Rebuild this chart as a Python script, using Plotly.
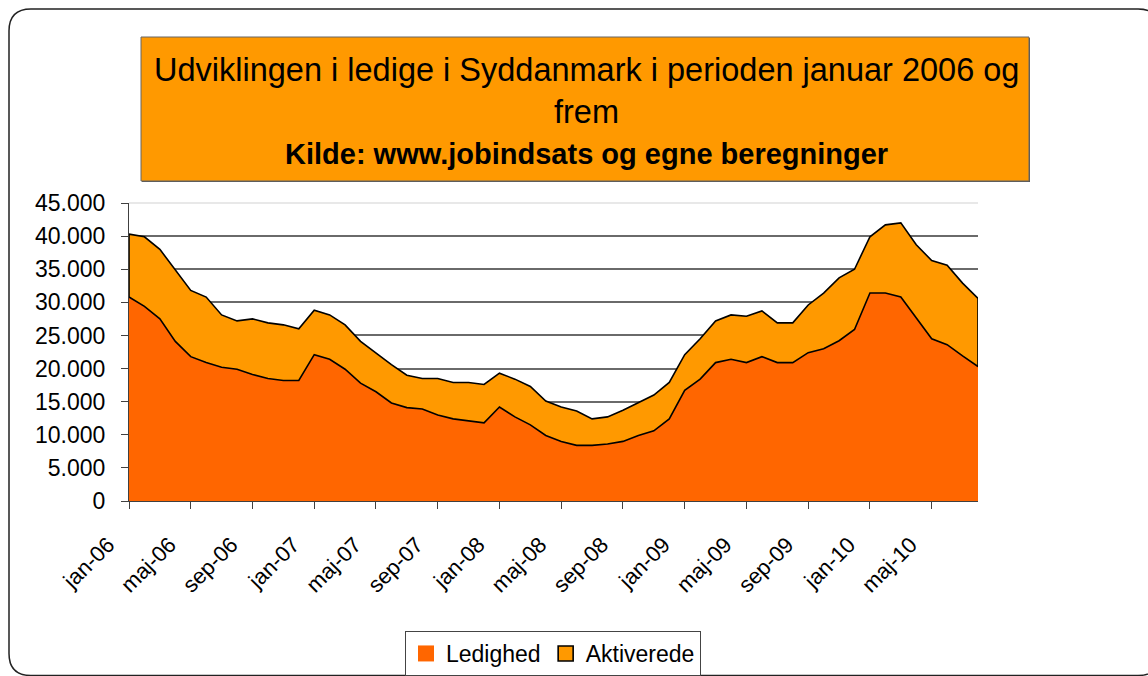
import plotly.graph_objects as go

# ---------------- data ----------------
month_names = ["jan", "feb", "mar", "apr", "maj", "jun", "jul", "aug", "sep", "okt", "nov", "dec"]
years = ["06", "07", "08", "09", "10"]
months = [f"{m}-{y}" for y in years for m in month_names][:56]   # jan-06 .. aug-10

ledighed = [30800, 29400, 27500, 24100, 21800, 20900, 20200, 19900, 19100, 18500,
            18200, 18200, 22100, 21400, 19900, 17800, 16500, 14800, 14100, 13900,
            13000, 12400, 12100, 11800, 14200, 12700, 11500, 9900, 9000, 8400,
            8400, 8600, 9000, 9900, 10600, 12400, 16700, 18400, 20900, 21400,
            20900, 21800, 20900, 20900, 22400, 23000, 24200, 25900, 31400, 31400,
            30800, 27600, 24500, 23600, 21900, 20300]

aktiverede = [9500, 10500, 10500, 10800, 10000, 9900, 7900, 7300, 8400, 8400,
              8400, 7800, 6700, 6700, 6700, 6300, 5800, 5800, 4900, 4600,
              5500, 5500, 5800, 5800, 5100, 5700, 5800, 5200, 5200, 5200,
              4000, 4100, 4700, 5000, 5400, 5500, 5400, 6100, 6300, 6700,
              7000, 6900, 6000, 6000, 7200, 8400, 9500, 9100, 8500, 10300,
              11200, 11100, 11800, 12000, 11000, 10300]

series_names = ["Ledighed", "Aktiverede"]
y_ticks = [0, 5000, 10000, 15000, 20000, 25000, 30000, 35000, 40000, 45000]
x_tick_labels = months[::4]

title_line1 = "Udviklingen i ledige i Syddanmark i perioden januar 2006 og"
title_line2 = "frem"
title_line3 = "Kilde: www.jobindsats og egne beregninger"

# ---------------- layout geometry (pixels) ----------------
W, H = 1148, 676
ML, MR, MT, MB = 129, 170, 203, 175
PW, PH = W - ML - MR, H - MT - MB


def px(x):
    return (x - ML) / PW


def py(y):
    return (H - MB - y) / PH


FONT = "Liberation Sans, Arial, sans-serif"
C_LED = "#FF6600"
C_AKT = "#FF9900"

total = [l + a for l, a in zip(ledighed, aktiverede)]

fig = go.Figure()

# Ledighed area (no border)
fig.add_trace(go.Scatter(
    x=months, y=ledighed, mode="lines", fill="tozeroy",
    fillcolor=C_LED, line=dict(width=0, color=C_LED),
    name=series_names[0], showlegend=False, hoverinfo="skip"))

# Aktiverede area stacked on top, bordered all around
poly_x = months + months[::-1] + [months[0]]
poly_y = total + ledighed[::-1] + [total[0]]
fig.add_trace(go.Scatter(
    x=poly_x, y=poly_y, mode="lines", fill="toself",
    fillcolor=C_AKT, line=dict(width=1.6, color="black"),
    name=series_names[1], showlegend=False, hoverinfo="skip"))

# legend entries (square swatches)
fig.add_trace(go.Scatter(
    x=[None], y=[None], mode="markers", name=series_names[0],
    marker=dict(symbol="square", size=17, color=C_LED, line=dict(width=0))))
fig.add_trace(go.Scatter(
    x=[None], y=[None], mode="markers", name=series_names[1],
    marker=dict(symbol="square", size=15, color=C_AKT, line=dict(width=1.6, color="black"))))

# ---------------- shapes ----------------
shapes = []
# outer rounded frame
L, T, R, B, r = 9, 9, 1160, 675.5, 22
path = (f"M {px(L + r)},{py(T)} L {px(R - r)},{py(T)} Q {px(R)},{py(T)} {px(R)},{py(T + r)} "
        f"L {px(R)},{py(B - r)} Q {px(R)},{py(B)} {px(R - r)},{py(B)} "
        f"L {px(L + r)},{py(B)} Q {px(L)},{py(B)} {px(L)},{py(B - r)} "
        f"L {px(L)},{py(T + r)} Q {px(L)},{py(T)} {px(L + r)},{py(T)} Z")
shapes.append(dict(type="path", xref="paper", yref="paper", path=path,
                   line=dict(color="#222222", width=1.5), fillcolor="rgba(0,0,0,0)", layer="below"))
# title box shadow + box
shapes.append(dict(type="rect", xref="paper", yref="paper",
                   x0=px(142), x1=px(1030), y0=py(182), y1=py(38),
                   line=dict(width=0), fillcolor="#555555", layer="below"))
shapes.append(dict(type="rect", xref="paper", yref="paper",
                   x0=px(141), x1=px(1029), y0=py(181), y1=py(37),
                   line=dict(width=1, color="#666666"), fillcolor=C_AKT, layer="below"))
# faint top border of plot area
shapes.append(dict(type="line", xref="paper", yref="paper", x0=0, x1=1, y0=1, y1=1,
                   line=dict(color="#e8e8e8", width=2), layer="above"))

annotations = [
    dict(text=title_line1, x=px(586), y=py(70.5), xref="paper", yref="paper",
         showarrow=False, xanchor="center", yanchor="middle",
         font=dict(family=FONT, size=32.5, color="black")),
    dict(text=title_line2, x=px(586), y=py(111.5), xref="paper", yref="paper",
         showarrow=False, xanchor="center", yanchor="middle",
         font=dict(family=FONT, size=32.5, color="black")),
    dict(text=f"<b>{title_line3}</b>", x=px(586), y=py(154), xref="paper", yref="paper",
         showarrow=False, xanchor="center", yanchor="middle",
         font=dict(family=FONT, size=29, color="black")),
]

fig.update_layout(
    width=W, height=H,
    margin=dict(l=ML, r=MR, t=MT, b=MB, pad=0, autoexpand=False),
    paper_bgcolor="white", plot_bgcolor="white",
    separators=",.",
    font=dict(family=FONT, color="black"),
    shapes=shapes, annotations=annotations,
    showlegend=True,
    legend=dict(orientation="h", x=553 / W, xref="container", xanchor="center",
                y=1 - 631 / H, yref="container", yanchor="top",
                bordercolor="#444444", borderwidth=1, bgcolor="white",
                font=dict(family=FONT, size=23, color="black"),
                itemwidth=30, tracegroupgap=0),
    xaxis=dict(type="category", categoryorder="array", categoryarray=months,
               range=[0, len(months) - 1], tickmode="array",
               tickvals=x_tick_labels, ticktext=x_tick_labels, tickangle=-45,
               ticks="outside", ticklen=7, tickcolor="#404040", tickwidth=1,
               showline=True, linecolor="#404040", linewidth=1.2, showgrid=False,
               zeroline=False, automargin=False, ticklabelstandoff=14,
               ticklabelshift=-21,
               tickfont=dict(family=FONT, size=22, color="black")),
    yaxis=dict(range=[0, 45000], tickmode="array", tickvals=y_ticks, tickformat=",d",
               ticks="outside", ticklen=7, tickcolor="#404040", tickwidth=1,
               showline=True, linecolor="#404040", linewidth=1.2,
               showgrid=True, gridcolor="#6a6a6a", gridwidth=1.5, zeroline=False,
               ticklabelstandoff=11, automargin=False,
               tickfont=dict(family=FONT, size=23, color="black")),
)

fig.write_html("out.html", config={"displayModeBar": False},
               post_script="document.body.style.margin='0';")
